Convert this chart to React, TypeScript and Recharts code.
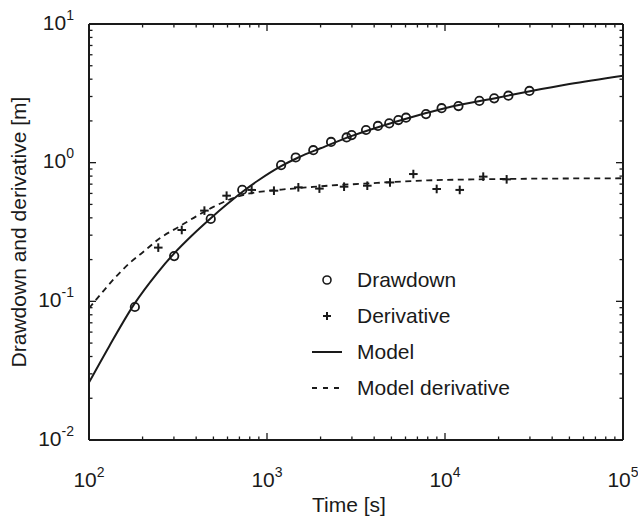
import React from 'react';
import { ComposedChart, Line, Scatter, XAxis, YAxis, Legend } from 'recharts';

// ---- data ----
const drawdownTime = [181, 301, 483, 726, 1200, 1450, 1820, 2290, 2800, 2990, 3600, 4200, 4860, 5470, 6040, 7820, 9570, 11900, 15600, 18900, 22700, 29800];
const drawdownValue = [0.091, 0.212, 0.393, 0.636, 0.96, 1.09, 1.23, 1.41, 1.52, 1.58, 1.72, 1.84, 1.92, 2.03, 2.11, 2.24, 2.47, 2.56, 2.79, 2.91, 3.04, 3.29];

const derivativeTime = [245, 332, 445, 593, 820, 1094, 1500, 1970, 2710, 3660, 4910, 6640, 8980, 12100, 16400, 22200];
const derivativeValue = [0.244, 0.327, 0.451, 0.578, 0.636, 0.628, 0.664, 0.65, 0.671, 0.682, 0.72, 0.828, 0.646, 0.636, 0.793, 0.758];

const modelTime = [100, 130, 181, 240, 301, 380, 478, 600, 726, 900, 1200, 1500, 2000, 3000, 5000, 7000, 10000, 20000, 30000, 50000, 100000];
const modelValue = [0.026, 0.0475, 0.097, 0.158, 0.222, 0.30, 0.393, 0.505, 0.615, 0.75, 0.944, 1.09, 1.27, 1.56, 1.93, 2.19, 2.47, 2.95, 3.27, 3.69, 4.24];

const modelDerivTime = [100, 120, 140, 170, 200, 250, 320, 400, 500, 600, 800, 1000, 1300, 1800, 2500, 3500, 5000, 8000, 15000, 30000, 60000, 100000];
const modelDerivValue = [0.089, 0.118, 0.148, 0.19, 0.225, 0.285, 0.345, 0.41, 0.48, 0.535, 0.60, 0.625, 0.645, 0.668, 0.69, 0.705, 0.725, 0.745, 0.758, 0.766, 0.77, 0.772];

const seriesNames = ['Drawdown', 'Derivative', 'Model', 'Model derivative'];
const xTitle = 'Time [s]';
const yTitle = 'Drawdown and derivative [m]';

const xDecades = [100, 1000, 10000];
const yDecades = [0.01, 0.1, 1];
const mantissas = [1, 2, 3, 4, 5, 6, 7, 8, 9];
const xDomain = [100, 100000];
const yDomain = [0.01, 10];

// ---- derived tables ----
const pair = (ts: number[], vs: number[]) => ts.map((t, i) => ({ t, v: vs[i] }));
const drawdownData = pair(drawdownTime, drawdownValue);
const derivativeData = pair(derivativeTime, derivativeValue);
const modelData = pair(modelTime, modelValue);
const modelDerivData = pair(modelDerivTime, modelDerivValue);

const xTicks = [...xDecades.flatMap((d) => mantissas.map((m) => +(m * d).toPrecision(4))), xDomain[1]];
const yTicks = [...yDecades.flatMap((d) => mantissas.map((m) => +(m * d).toPrecision(4))), yDomain[1]];

const INK = '#1a1a1a';
const FONT = "'Liberation Sans', Arial, Helvetica, sans-serif";
const MAJOR = 7;
const MINOR = 3.5;
const LABEL_SIZE = 21;
const SUP_SIZE = 14;
const DASH = '6 4.5';

const isMajor = (v: number) => {
  const l = Math.log10(v);
  return Math.abs(l - Math.round(l)) < 1e-6;
};
const expOf = (v: number) => Math.round(Math.log10(v));

const Pow = ({ x, y, anchor, v }: any) => (
  <text x={x} y={y} textAnchor={anchor} fontFamily={FONT} fontSize={LABEL_SIZE} fill={INK}>
    10
    <tspan dy={-10} fontSize={SUP_SIZE}>{`${expOf(v)}`}</tspan>
  </text>
);

const BottomTick = (props: any) => {
  const { x, y, payload } = props;
  const v = payload.value;
  const major = isMajor(v);
  return (
    <g>
      <line x1={x} y1={y} x2={x} y2={y - (major ? MAJOR : MINOR)} stroke={INK} strokeWidth={1.3} />
      {major && <Pow x={x} y={y + 47} anchor="middle" v={v} />}
    </g>
  );
};

const TopTick = (props: any) => {
  const { x, y, payload } = props;
  const major = isMajor(payload.value);
  return <line x1={x} y1={y} x2={x} y2={y + (major ? MAJOR : MINOR)} stroke={INK} strokeWidth={1.3} />;
};

const LeftTick = (props: any) => {
  const { x, y, payload } = props;
  const v = payload.value;
  const major = isMajor(v);
  return (
    <g>
      <line x1={x} y1={y} x2={x + (major ? MAJOR : MINOR)} y2={y} stroke={INK} strokeWidth={1.3} />
      {major && <Pow x={x - 15} y={y + 5.5} anchor="end" v={v} />}
    </g>
  );
};

const RightTick = (props: any) => {
  const { x, y, payload } = props;
  const major = isMajor(payload.value);
  return <line x1={x} y1={y} x2={x - (major ? MAJOR : MINOR)} y2={y} stroke={INK} strokeWidth={1.3} />;
};

const XTitle = (props: any) => {
  const vb = props.viewBox || {};
  return (
    <text x={vb.x + vb.width / 2 - 7} y={vb.y + 72} textAnchor="middle" fontFamily={FONT} fontSize={LABEL_SIZE} fill={INK}>
      {xTitle}
    </text>
  );
};

const YTitle = (props: any) => {
  const vb = props.viewBox || {};
  const cx = vb.x + 26;
  const cy = vb.y + vb.height / 2;
  return (
    <text x={cx} y={cy} transform={`rotate(-90 ${cx} ${cy})`} textAnchor="middle" fontFamily={FONT} fontSize={LABEL_SIZE} fill={INK}>
      {yTitle}
    </text>
  );
};

const CircleShape = (props: any) => (
  <circle cx={props.cx} cy={props.cy} r={4.2} fill="none" stroke={INK} strokeWidth={1.8} />
);
const PlusShape = (props: any) => {
  const { cx, cy } = props;
  const a = 4.3;
  return (
    <g stroke={INK} strokeWidth={2}>
      <line x1={cx - a} y1={cy} x2={cx + a} y2={cy} />
      <line x1={cx} y1={cy - a} x2={cx} y2={cy + a} />
    </g>
  );
};

const symbolFor = (i: number) => {
  const cx = 27;
  const cy = 18;
  if (i === 0) return <circle cx={cx} cy={cy} r={4} fill="none" stroke={INK} strokeWidth={1.6} />;
  if (i === 1)
    return (
      <g stroke={INK} strokeWidth={2}>
        <line x1={cx - 4} y1={cy} x2={cx + 4} y2={cy} />
        <line x1={cx} y1={cy - 4} x2={cx} y2={cy + 4} />
      </g>
    );
  if (i === 2) return <line x1={12} y1={cy} x2={42} y2={cy} stroke={INK} strokeWidth={2} />;
  return <line x1={12} y1={cy} x2={42} y2={cy} stroke={INK} strokeWidth={1.8} strokeDasharray="5 6" />;
};

const LegendContent = () => (
  <div style={{ fontFamily: FONT, fontSize: LABEL_SIZE, color: INK }}>
    {seriesNames.map((name, i) => (
      <div key={name} style={{ display: 'flex', alignItems: 'center', height: 36 }}>
        <svg width={57} height={36} style={{ flex: 'none' }}>
          {symbolFor(i)}
        </svg>
        <span style={{ whiteSpace: 'nowrap', lineHeight: '36px' }}>{name}</span>
      </div>
    ))}
  </div>
);

export default function App() {
  return (
    <div style={{ position: 'absolute', left: 0, top: 0, width: 638, height: 522, background: '#fff' }}>
      <style>{`body{margin:0;background:#fff}`}</style>
      <ComposedChart width={638} height={522} margin={{ top: 0, right: 0, bottom: 0, left: 0 }}>
        <XAxis
          xAxisId="b"
          dataKey="t"
          type="number"
          scale="log"
          domain={xDomain}
          allowDataOverflow
          ticks={xTicks}
          interval={0}
          tick={<BottomTick />}
          tickLine={false}
          tickSize={0}
          tickMargin={0}
          height={82}
          axisLine={{ stroke: INK, strokeWidth: 2 }}
          label={<XTitle />}
        />
        <XAxis
          xAxisId="top"
          orientation="top"
          dataKey="t"
          type="number"
          scale="log"
          domain={xDomain}
          allowDataOverflow
          ticks={xTicks}
          interval={0}
          tick={<TopTick />}
          tickLine={false}
          tickSize={0}
          tickMargin={0}
          height={24}
          axisLine={{ stroke: INK, strokeWidth: 2 }}
        />
        <YAxis
          yAxisId="l"
          dataKey="v"
          type="number"
          scale="log"
          domain={yDomain}
          allowDataOverflow
          ticks={yTicks}
          interval={0}
          tick={<LeftTick />}
          tickLine={false}
          tickSize={0}
          tickMargin={0}
          width={89}
          axisLine={{ stroke: INK, strokeWidth: 2 }}
          label={<YTitle />}
        />
        <YAxis
          yAxisId="r"
          orientation="right"
          dataKey="v"
          type="number"
          scale="log"
          domain={yDomain}
          allowDataOverflow
          ticks={yTicks}
          interval={0}
          tick={<RightTick />}
          tickLine={false}
          tickSize={0}
          tickMargin={0}
          width={15}
          axisLine={{ stroke: INK, strokeWidth: 2 }}
        />
        <Line
          xAxisId="b"
          yAxisId="l"
          data={modelDerivData}
          dataKey="v"
          name={seriesNames[3]}
          type="monotone"
          stroke={INK}
          strokeWidth={1.8}
          strokeDasharray={DASH}
          dot={false}
          isAnimationActive={false}
        />
        <Line
          xAxisId="b"
          yAxisId="l"
          data={modelData}
          dataKey="v"
          name={seriesNames[2]}
          type="monotone"
          stroke={INK}
          strokeWidth={2}
          dot={false}
          isAnimationActive={false}
        />
        <Scatter
          xAxisId="b"
          yAxisId="l"
          data={drawdownData}
          dataKey="v"
          name={seriesNames[0]}
          shape={<CircleShape />}
          isAnimationActive={false}
        />
        <Scatter
          xAxisId="b"
          yAxisId="l"
          data={derivativeData}
          dataKey="v"
          name={seriesNames[1]}
          shape={<PlusShape />}
          isAnimationActive={false}
        />
        <Legend
          layout="vertical"
          align="center"
          verticalAlign="middle"
          content={<LegendContent />}
          wrapperStyle={{ left: 300, top: 262, width: 280, height: 150 }}
        />
      </ComposedChart>
    </div>
  );
}
